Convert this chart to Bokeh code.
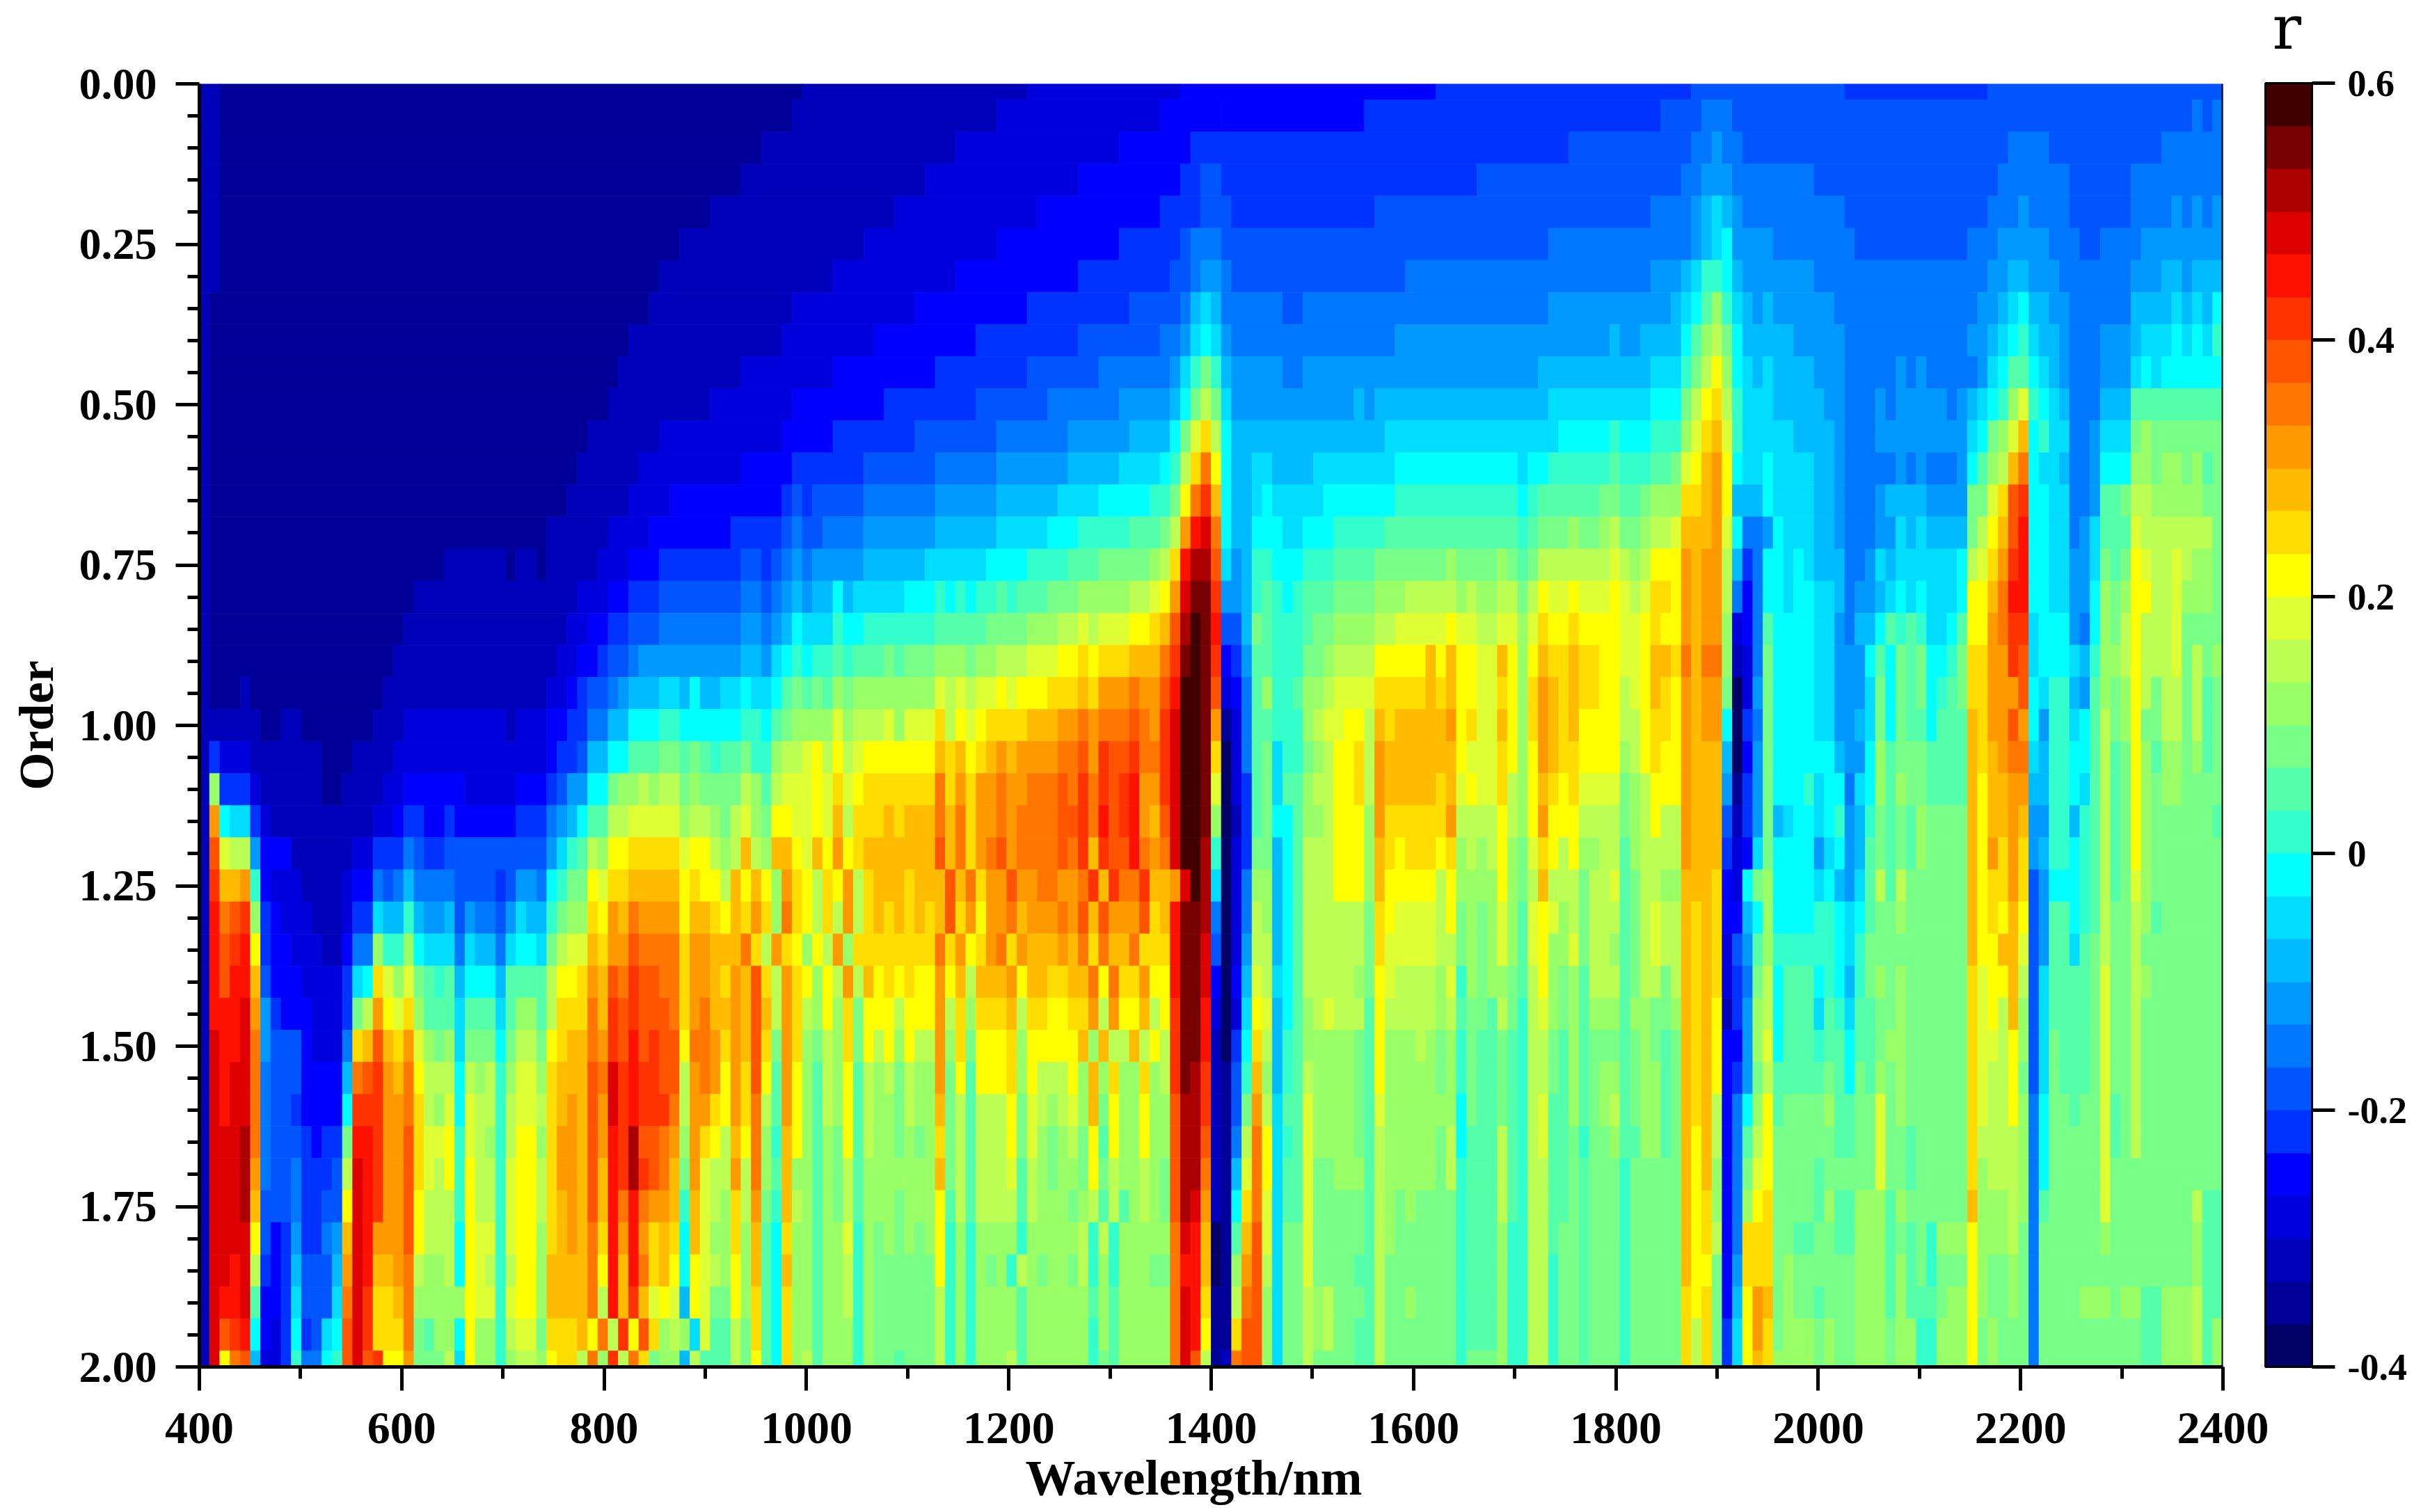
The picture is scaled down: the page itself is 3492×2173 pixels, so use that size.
from bokeh.embed import file_html
from bokeh.resources import INLINE
from bokeh.plotting import figure
from bokeh.models import (ColumnDataSource, LinearColorMapper, ColorBar, FixedTicker, Range1d,
                          Label, Span, NumeralTickFormatter)

# Each row: flat pairs  start wavelength (nm), colour band (0 = r -0.4..-0.367 ... 29 = r 0.567..0.6)
R00=[400,2,420,1,996,2,1218,3,1369,4,1622,5,1874,6,2027,5,2169,6]
R01=[400,2,420,1,985,2,1187,3,1350,4,1410,4,1552,5,1845,6,1885,7,1916,6,2371,7,2381,6,2391,7]
R02=[400,2,420,1,955,2,1147,3,1309,4,1380,5,1754,6,1874,7,1896,8,1906,7,1926,6,2189,7,2229,6,2340,7]
R03=[400,2,420,1,935,2,1117,3,1270,4,1369,5,1390,6,1410,5,1663,6,1865,7,1885,8,1916,7,1996,6,2180,7,2249,6,2311,7]
R04=[400,2,420,1,905,2,1087,3,1228,4,1350,5,1390,6,1420,5,1562,6,1835,7,1875,8,1886,9,1896,10,1906,9,1916,8,1926,7,2027,6,2169,7,2198,8,2209,7,2249,6,2311,7,2351,8,2361,7,2371,8,2381,7,2391,8]
R05=[400,2,420,1,874,2,1056,3,1187,4,1309,5,1369,6,1380,7,1410,6,1734,7,1875,8,1886,9,1896,10,1906,11,1916,8,1956,7,2037,6,2149,7,2178,8,2229,7,2260,6,2280,7,2321,8]
R06=[400,2,420,1,855,2,1026,3,1147,4,1270,5,1359,6,1380,7,1390,8,1410,7,1420,6,1592,7,1835,8,1866,9,1875,10,1886,12,1906,11,1916,9,1926,8,1996,7,2169,8,2189,9,2209,8,2239,7,2311,8,2340,9,2361,8,2371,9]
R07=[400,2,410,1,844,2,985,3,1107,4,1218,5,1319,6,1369,7,1380,9,1390,10,1400,9,1410,7,1471,6,1491,7,1734,8,1855,9,1866,10,1875,11,1886,13,1896,15,1906,12,1916,10,1926,9,1936,8,1945,9,1956,8,2017,7,2158,8,2178,9,2189,10,2198,11,2209,9,2229,8,2249,7,2311,9,2351,10,2361,9,2371,10,2381,9,2391,11]
R08=[400,2,410,1,824,2,976,3,1066,4,1167,5,1270,6,1350,7,1369,8,1380,10,1390,11,1400,10,1410,8,1420,7,1582,8,1794,9,1804,8,1825,9,1866,11,1875,13,1886,15,1896,16,1906,14,1916,11,1926,9,1976,8,2027,7,2149,8,2169,9,2178,10,2189,11,2198,12,2209,10,2219,9,2239,8,2249,7,2280,8,2311,9,2321,10,2351,11,2361,10,2371,11,2381,10,2391,12]
R09=[400,2,410,1,814,2,935,3,1026,4,1127,5,1218,6,1288,7,1359,8,1369,10,1380,12,1390,14,1400,12,1410,9,1420,8,1471,7,1491,8,1724,9,1835,10,1866,12,1875,14,1886,16,1896,18,1906,15,1916,11,1926,10,1936,9,1945,10,1956,9,1996,8,2027,7,2078,8,2087,7,2098,8,2107,7,2158,8,2169,10,2178,11,2189,13,2209,11,2219,10,2229,9,2239,8,2249,7,2280,8,2311,10,2321,11,2331,10,2340,11]
R10=[400,2,410,1,804,2,905,3,985,4,1077,5,1167,6,1238,7,1309,8,1359,9,1369,11,1380,14,1390,16,1400,14,1410,10,1420,8,1541,9,1552,8,1562,9,1734,10,1835,11,1866,14,1875,16,1886,18,1896,19,1906,16,1916,12,1926,10,1956,9,2007,8,2027,7,2058,8,2068,7,2078,8,2129,7,2139,8,2149,9,2158,10,2169,11,2178,12,2189,15,2198,17,2209,12,2219,11,2229,10,2239,9,2249,7,2280,9,2311,13]
R11=[400,2,410,1,784,2,855,3,975,4,1026,5,1107,6,1187,7,1258,8,1319,9,1359,11,1369,14,1380,17,1390,19,1400,16,1410,11,1420,9,1572,10,1744,11,1794,12,1804,11,1835,12,1866,15,1875,17,1886,19,1896,20,1906,17,1916,12,1926,10,1976,9,2017,8,2027,7,2058,8,2149,10,2158,11,2169,14,2178,15,2189,17,2198,20,2209,11,2219,12,2229,10,2249,7,2270,8,2280,10,2311,14,2321,15,2331,14]
R12=[400,2,410,1,773,2,834,3,934,4,985,5,1056,6,1127,7,1187,8,1258,9,1309,10,1350,11,1359,12,1369,16,1380,19,1390,22,1400,18,1410,11,1420,9,1440,10,1460,9,1501,10,1582,11,1704,10,1714,11,1734,12,1794,13,1804,12,1835,13,1855,14,1866,17,1875,18,1886,20,1896,21,1906,18,1916,11,1926,10,1945,11,1956,10,1996,9,2017,8,2027,7,2078,8,2087,7,2098,8,2107,7,2139,8,2149,11,2158,13,2169,15,2178,16,2189,20,2198,22,2209,11,2219,10,2239,9,2249,7,2270,8,2280,11,2311,15,2331,14,2340,15,2361,14,2371,15,2381,13,2391,14]
R13=[400,2,410,1,764,2,824,3,865,4,975,5,985,6,996,5,1006,6,1056,7,1127,8,1187,9,1248,10,1288,11,1339,12,1359,14,1369,18,1380,22,1390,24,1400,20,1410,11,1420,9,1440,10,1450,11,1460,10,1511,11,1582,12,1704,11,1714,12,1724,13,1784,14,1804,13,1825,14,1835,15,1866,19,1886,20,1896,21,1906,18,1916,9,1945,11,1956,10,1996,9,2017,8,2027,7,2058,8,2068,9,2107,8,2149,14,2169,17,2178,19,2189,23,2198,24,2209,11,2229,10,2249,7,2270,8,2280,13,2300,14,2311,16,2331,15,2381,14]
R14=[400,2,410,1,743,2,804,3,844,4,925,5,975,6,985,7,996,6,1016,7,1056,8,1127,9,1187,10,1238,11,1270,12,1319,13,1350,14,1359,16,1369,21,1380,25,1390,26,1400,22,1410,11,1420,9,1440,11,1471,10,1491,11,1521,12,1572,13,1704,12,1714,13,1724,14,1754,15,1764,14,1784,15,1794,16,1804,14,1825,15,1835,16,1855,17,1866,20,1895,21,1906,17,1916,11,1926,7,1945,8,1956,11,1967,10,1996,9,2017,8,2027,7,2058,8,2078,10,2087,9,2098,10,2107,9,2149,14,2158,16,2169,18,2178,20,2189,23,2198,25,2209,11,2229,10,2249,7,2260,8,2270,10,2280,13,2311,17,2321,16,2391,14]
R15=[400,2,410,1,641,2,703,1,712,2,733,1,743,2,794,3,824,4,855,5,935,6,955,5,965,6,975,7,985,8,996,7,1006,8,1056,9,1117,10,1177,11,1218,12,1258,13,1288,14,1339,15,1350,16,1359,19,1369,25,1380,27,1400,23,1410,10,1420,8,1430,9,1440,12,1460,11,1491,12,1521,13,1562,14,1633,15,1643,14,1683,15,1693,14,1704,13,1714,14,1724,16,1794,17,1804,16,1815,15,1825,16,1835,18,1866,21,1875,20,1886,21,1906,16,1916,9,1926,5,1936,7,1945,11,1967,10,1976,11,1987,10,1996,9,2027,7,2047,8,2058,10,2068,9,2078,10,2139,11,2149,16,2158,17,2169,19,2178,21,2189,24,2198,25,2209,11,2229,10,2249,8,2270,10,2280,14,2290,13,2300,14,2311,18,2321,17,2331,16,2351,17,2361,16,2371,15,2391,14]
R16=[400,2,410,1,612,2,773,3,804,4,824,5,855,6,935,7,955,6,965,7,975,8,985,9,996,8,1006,9,1026,11,1036,9,1046,10,1097,11,1127,12,1137,11,1147,12,1157,11,1167,12,1187,13,1197,12,1207,13,1238,14,1270,15,1319,16,1339,17,1350,18,1359,21,1369,26,1380,28,1400,24,1410,8,1430,9,1440,12,1450,13,1460,12,1471,11,1481,12,1491,13,1521,14,1562,15,1592,16,1643,15,1653,16,1663,15,1683,16,1704,14,1714,16,1724,18,1734,17,1754,18,1764,17,1794,18,1804,17,1815,16,1825,17,1835,19,1855,18,1866,21,1875,20,1886,21,1906,16,1916,7,1926,4,1936,7,1945,11,1967,10,1976,11,1996,10,2017,9,2027,7,2037,8,2058,9,2068,10,2078,11,2087,10,2098,11,2107,10,2139,11,2149,18,2169,20,2178,22,2189,25,2209,11,2229,10,2249,8,2270,11,2280,15,2290,14,2300,15,2311,18,2331,16,2351,17,2361,15,2391,14]
R17=[400,2,410,1,602,2,763,3,784,4,804,5,824,6,854,7,935,8,956,7,966,8,976,9,986,11,996,10,1026,12,1036,11,1056,12,1127,13,1177,14,1218,15,1248,16,1268,17,1278,16,1288,17,1319,18,1340,19,1350,20,1360,23,1370,27,1380,29,1390,28,1400,25,1410,6,1430,9,1440,14,1450,13,1460,12,1491,13,1501,14,1521,15,1562,16,1582,17,1633,18,1643,17,1663,16,1683,17,1702,15,1714,17,1724,19,1734,18,1754,19,1764,18,1804,17,1825,18,1835,19,1845,18,1866,21,1875,20,1886,21,1906,15,1916,3,1926,4,1936,7,1945,13,1956,11,1996,10,2017,8,2027,7,2037,9,2058,11,2068,13,2078,12,2087,13,2098,12,2107,10,2129,11,2139,13,2149,18,2169,21,2178,22,2189,24,2209,10,2219,11,2249,8,2260,7,2270,11,2280,15,2290,14,2300,16,2311,18,2321,16,2351,17,2361,14]
R18=[400,2,410,1,592,2,753,3,774,4,793,5,804,6,824,7,834,8,935,9,956,8,966,10,976,11,986,12,996,11,1006,12,1026,13,1036,12,1046,13,1077,14,1087,13,1097,14,1127,15,1157,14,1167,15,1188,16,1218,17,1248,18,1268,19,1278,18,1288,19,1319,20,1349,22,1359,24,1370,28,1380,29,1390,28,1400,24,1410,4,1420,5,1430,8,1440,13,1460,12,1491,14,1511,15,1521,16,1562,18,1613,20,1622,18,1633,20,1643,18,1663,17,1683,20,1693,18,1704,15,1714,18,1724,20,1734,19,1754,20,1764,19,1784,18,1804,17,1825,18,1835,20,1855,19,1866,22,1875,20,1886,22,1906,15,1916,2,1926,3,1936,7,1945,14,1956,11,1996,10,2017,8,2047,11,2058,13,2068,11,2078,14,2087,13,2098,14,2107,11,2129,12,2139,14,2149,19,2169,21,2189,24,2198,23,2209,10,2219,11,2249,10,2260,9,2270,12,2280,15,2300,16,2311,18,2321,16,2351,17,2361,14,2371,16,2381,14,2391,15]
R19=[400,2,410,1,440,2,450,1,582,2,743,3,764,4,774,5,784,6,804,7,814,8,824,9,854,10,874,9,884,11,895,9,915,10,935,11,945,10,966,11,976,13,986,14,996,13,1006,14,1016,13,1026,15,1036,14,1046,15,1127,17,1137,16,1147,17,1157,16,1167,17,1188,18,1198,17,1208,18,1238,19,1268,20,1278,19,1288,21,1319,22,1329,21,1349,23,1359,25,1370,29,1390,28,1400,23,1410,3,1420,4,1430,7,1440,13,1450,15,1460,12,1481,13,1491,15,1511,16,1521,17,1562,19,1613,20,1622,19,1633,20,1643,18,1663,17,1683,19,1693,18,1704,15,1714,19,1724,21,1734,20,1744,19,1754,20,1764,19,1784,18,1804,16,1815,17,1825,18,1835,20,1845,19,1855,18,1866,21,1875,20,1886,21,1906,14,1916,0,1926,3,1936,8,1945,14,1956,11,1996,10,2017,8,2047,10,2058,14,2068,11,2078,14,2087,13,2098,14,2107,11,2118,12,2129,13,2139,14,2149,19,2169,21,2198,23,2209,11,2219,10,2229,12,2249,9,2260,8,2270,13,2280,15,2290,14,2300,15,2311,18,2321,16,2331,14,2340,16,2361,14,2371,16,2381,13,2391,14]
R20=[400,2,460,1,480,2,500,1,572,2,602,3,704,2,713,3,743,4,764,5,784,7,804,9,824,11,854,12,874,11,935,12,956,11,966,13,976,14,986,15,1026,17,1036,15,1046,16,1077,17,1087,15,1097,17,1127,19,1137,16,1147,18,1157,17,1167,18,1177,19,1218,20,1248,21,1268,22,1278,21,1288,22,1319,23,1329,22,1339,21,1349,24,1359,26,1370,29,1390,28,1400,21,1410,1,1420,3,1430,7,1440,13,1460,12,1491,15,1501,16,1511,17,1532,18,1551,16,1562,20,1572,19,1582,20,1633,21,1643,18,1653,19,1663,17,1683,20,1693,18,1704,15,1714,19,1724,21,1734,20,1744,19,1754,20,1764,18,1804,16,1825,18,1835,19,1855,18,1866,21,1875,20,1886,21,1906,11,1916,0,1926,5,1936,7,1945,14,1956,11,1996,10,2017,8,2037,9,2047,10,2058,14,2068,11,2078,14,2087,13,2107,11,2118,13,2149,20,2158,19,2169,21,2189,23,2198,21,2209,11,2219,8,2229,12,2249,10,2260,11,2270,13,2280,16,2290,14,2300,15,2311,18,2321,14,2340,16,2361,14,2371,16,2381,13,2391,14]
R21=[400,2,410,5,420,3,450,2,522,1,550,2,592,3,743,4,753,5,774,6,784,9,804,11,824,13,854,14,874,13,884,14,895,13,905,12,915,13,935,14,945,12,966,15,976,16,996,17,1006,18,1016,16,1026,18,1036,16,1046,17,1056,18,1127,20,1137,19,1147,20,1157,18,1167,19,1177,20,1188,21,1198,20,1208,21,1248,22,1268,23,1278,21,1288,24,1299,23,1319,24,1329,22,1349,24,1359,26,1370,29,1390,28,1400,19,1410,0,1420,3,1430,7,1440,13,1450,14,1460,10,1471,12,1491,14,1501,15,1511,16,1521,18,1541,19,1551,16,1562,21,1572,20,1643,18,1653,17,1683,19,1693,18,1704,15,1714,18,1724,21,1734,20,1744,19,1764,18,1804,15,1815,16,1825,18,1835,19,1845,18,1866,21,1875,20,1906,9,1916,0,1926,4,1936,8,1945,14,1956,11,2007,11,2017,9,2027,8,2047,11,2058,15,2068,13,2078,14,2107,13,2149,20,2158,19,2169,20,2178,21,2189,22,2209,10,2219,9,2229,12,2249,11,2270,13,2280,16,2290,13,2300,14,2311,18,2321,15,2331,13,2340,15,2361,14,2371,15,2381,13,2391,14]
R22=[400,2,410,15,420,5,450,3,460,2,522,1,540,2,582,3,602,4,662,3,713,4,743,5,753,6,763,8,784,11,804,14,814,15,834,16,844,15,854,16,874,14,884,15,895,14,935,16,945,15,956,13,966,16,976,17,1006,18,1016,17,1026,19,1036,17,1046,18,1056,19,1127,22,1137,19,1147,21,1157,19,1167,21,1188,22,1198,21,1218,22,1248,23,1258,22,1268,24,1278,22,1288,24,1299,23,1309,24,1319,25,1329,21,1349,24,1359,26,1370,29,1390,28,1400,17,1410,0,1420,3,1430,5,1440,13,1450,14,1460,10,1471,13,1491,15,1501,16,1521,18,1541,19,1551,16,1562,21,1572,20,1622,19,1633,20,1643,17,1653,18,1663,17,1683,19,1693,16,1704,15,1714,18,1724,20,1734,19,1744,18,1754,19,1764,17,1804,14,1815,15,1825,16,1835,18,1866,21,1875,20,1906,8,1916,1,1926,5,1936,8,1945,14,1956,11,1987,12,1996,10,2007,11,2027,7,2037,10,2047,11,2058,15,2068,13,2078,15,2087,14,2107,13,2149,20,2158,18,2169,20,2189,21,2209,9,2229,12,2249,11,2260,10,2270,13,2280,16,2290,13,2300,14,2311,18,2321,15,2331,14,2340,15,2361,14]
R23=[400,2,410,21,420,11,430,10,450,5,460,3,470,2,572,3,592,4,602,5,622,4,642,5,652,4,713,5,743,7,753,8,763,9,773,11,783,13,804,16,824,17,874,15,884,16,895,16,905,15,915,14,925,16,935,17,945,15,956,14,966,18,986,17,1006,18,1016,17,1026,20,1036,16,1046,19,1077,20,1087,19,1097,20,1127,22,1137,20,1147,22,1157,19,1167,21,1188,22,1198,21,1208,22,1248,23,1268,24,1278,22,1288,25,1299,23,1309,24,1319,25,1329,21,1339,20,1349,23,1359,26,1370,29,1390,28,1400,15,1410,0,1420,2,1430,5,1440,13,1450,14,1460,11,1481,13,1491,15,1511,16,1521,18,1551,15,1562,21,1572,19,1633,21,1643,16,1683,18,1693,16,1704,15,1714,18,1724,21,1734,18,1764,16,1804,14,1815,15,1825,16,1835,18,1845,16,1866,21,1875,20,1906,6,1916,2,1926,5,1936,8,1945,14,1956,9,1967,10,1976,11,1996,10,2007,11,2017,12,2027,8,2037,9,2047,12,2058,14,2068,13,2078,14,2087,13,2098,15,2107,14,2149,20,2158,18,2169,20,2189,21,2198,20,2209,8,2229,12,2249,9,2260,12,2270,13,2280,16,2290,13,2300,14,2311,18,2321,15,2331,14,2391,13]
R24=[400,2,410,23,420,17,430,16,450,8,460,4,490,2,550,3,572,5,602,7,612,6,622,5,642,6,652,6,743,8,753,10,763,12,773,13,783,16,793,15,804,18,824,19,874,17,884,18,895,18,905,16,915,15,925,16,935,20,945,16,956,15,966,20,986,18,996,17,1006,20,1016,18,1026,21,1036,18,1046,19,1056,20,1127,23,1137,20,1147,22,1157,19,1167,21,1177,22,1188,23,1198,21,1208,22,1248,23,1258,22,1268,24,1278,20,1288,24,1299,23,1319,25,1329,22,1339,21,1349,22,1359,26,1370,29,1390,27,1400,12,1410,0,1420,3,1430,5,1440,14,1460,9,1471,11,1481,13,1491,16,1521,18,1551,15,1562,20,1572,19,1582,18,1592,19,1622,18,1633,19,1643,15,1653,16,1663,15,1673,16,1683,18,1693,15,1704,14,1714,17,1724,19,1734,18,1744,16,1754,18,1764,15,1784,16,1804,13,1815,15,1825,16,1866,21,1875,20,1906,5,1916,3,1926,4,1936,10,1945,14,1956,11,1996,8,2007,10,2017,11,2027,8,2037,9,2047,13,2058,14,2068,13,2078,14,2087,13,2098,15,2107,14,2149,20,2158,18,2169,21,2178,19,2189,21,2198,19,2209,8,2219,9,2229,12,2249,11,2260,12,2270,13,2280,16,2290,13,2300,14,2311,18,2321,15,2331,14]
R25=[400,2,410,24,420,20,440,21,450,12,460,4,470,3,500,2,542,3,552,4,572,7,582,6,592,7,602,9,612,7,652,6,692,5,702,6,713,8,733,7,743,11,753,12,763,14,784,18,793,17,804,19,824,20,874,18,884,19,895,18,915,16,925,20,935,18,945,20,956,18,966,15,976,21,986,19,996,18,1006,16,1016,19,1026,18,1036,21,1046,16,1056,19,1066,20,1097,19,1106,20,1137,23,1147,20,1157,22,1167,19,1177,21,1198,23,1208,21,1228,22,1248,21,1268,22,1278,24,1288,20,1299,24,1309,22,1329,24,1339,20,1359,21,1370,26,1380,29,1390,27,1400,10,1410,0,1420,3,1430,7,1440,15,1460,9,1471,11,1481,13,1491,16,1521,18,1551,15,1562,20,1572,18,1622,16,1633,18,1643,15,1683,18,1693,15,1704,14,1714,16,1724,20,1734,16,1754,16,1764,14,1774,16,1794,17,1804,13,1815,14,1825,16,1845,15,1866,20,1895,19,1906,4,1916,3,1926,11,1936,14,1945,15,1956,11,1996,10,2007,11,2017,9,2027,8,2037,10,2047,13,2058,16,2068,13,2078,16,2087,14,2149,20,2158,18,2169,19,2189,21,2198,19,2209,6,2219,8,2229,11,2260,12,2270,13,2280,16,2290,13,2300,14,2311,17,2321,15,2331,14]
R26=[400,2,410,25,420,22,430,23,440,24,450,15,460,5,470,4,480,3,510,2,542,3,552,5,572,10,582,9,602,12,612,9,622,8,642,9,652,6,662,8,672,7,692,6,702,8,713,10,723,9,743,12,753,14,763,15,784,19,793,18,804,21,814,20,824,22,834,21,874,18,884,20,895,20,905,19,915,18,925,20,935,19,945,21,956,19,966,15,976,22,986,19,996,18,1006,16,1016,19,1026,16,1036,21,1046,16,1056,19,1066,20,1077,19,1087,20,1097,19,1106,20,1117,19,1127,20,1137,23,1147,19,1157,21,1167,18,1177,21,1198,22,1208,20,1218,21,1248,22,1258,21,1268,23,1278,20,1288,23,1299,21,1329,23,1339,19,1349,20,1359,25,1370,28,1390,27,1400,7,1410,0,1420,3,1430,7,1440,16,1450,15,1460,9,1471,11,1481,13,1491,16,1551,14,1562,19,1572,18,1582,17,1622,16,1633,18,1643,14,1653,15,1663,14,1673,15,1683,17,1693,15,1704,13,1714,17,1724,18,1734,17,1744,15,1754,16,1764,14,1774,16,1804,13,1815,14,1825,16,1835,17,1845,16,1866,20,1875,19,1886,20,1895,19,1906,4,1916,4,1926,9,1936,11,1945,15,1956,11,1996,12,2017,11,2027,10,2037,11,2047,13,2058,14,2078,15,2087,14,2149,20,2158,18,2169,19,2178,18,2189,20,2198,18,2209,6,2219,8,2229,13,2249,11,2260,12,2270,13,2280,16,2290,14,2311,16,2321,15,2331,13,2340,14]
R27=[400,2,410,25,420,23,430,24,440,25,450,18,460,5,470,4,490,3,522,2,542,4,552,7,572,15,582,12,602,15,612,11,622,10,652,7,662,10,672,9,692,7,702,10,713,11,733,10,743,14,753,16,763,17,784,20,793,19,804,21,824,23,834,22,874,19,884,21,895,21,905,20,935,22,945,19,956,16,966,21,976,19,986,18,996,15,1006,18,1016,16,1026,21,1036,15,1046,19,1127,22,1137,19,1147,21,1157,18,1167,19,1177,21,1188,22,1198,19,1208,21,1218,20,1248,21,1258,20,1268,22,1278,19,1288,22,1299,20,1319,22,1329,19,1359,25,1370,28,1390,26,1400,6,1410,0,1420,3,1430,8,1440,16,1460,9,1471,11,1481,13,1491,16,1551,14,1562,19,1572,17,1622,16,1643,14,1653,15,1663,14,1673,15,1683,17,1693,15,1704,13,1714,17,1724,18,1734,15,1754,17,1764,14,1774,16,1794,15,1804,13,1815,14,1825,16,1835,17,1845,16,1866,20,1875,19,1886,20,1895,19,1906,3,1916,6,1926,8,1936,13,1945,15,1956,12,2017,11,2027,10,2037,12,2047,14,2149,20,2158,18,2178,20,2198,17,2209,6,2219,8,2229,13,2249,10,2260,13,2270,14,2280,16,2290,14,2311,16,2321,14]
R28=[400,2,410,25,420,23,430,25,450,20,460,6,470,4,500,3,542,5,552,10,562,11,572,19,582,17,592,15,602,17,612,14,622,13,632,12,642,13,652,9,662,11,692,9,702,13,733,13,743,16,753,18,774,19,784,21,793,20,804,23,814,22,824,24,834,23,854,22,874,19,884,21,895,21,905,20,915,19,925,21,935,20,945,23,956,19,966,16,976,21,986,19,996,18,1006,15,1016,18,1026,16,1036,21,1046,16,1056,20,1066,18,1077,19,1087,18,1097,19,1106,18,1127,21,1137,18,1147,20,1157,16,1167,20,1198,21,1208,18,1218,20,1238,19,1258,20,1278,22,1288,18,1299,22,1309,19,1329,21,1339,18,1359,25,1370,28,1390,26,1400,4,1410,0,1420,4,1430,9,1440,17,1450,16,1460,10,1471,11,1481,13,1491,16,1541,15,1551,14,1562,18,1572,17,1582,16,1622,15,1633,17,1643,12,1653,15,1663,14,1673,15,1693,14,1704,13,1714,16,1724,18,1734,15,1744,14,1754,15,1764,13,1774,16,1804,13,1815,14,1825,16,1845,14,1855,16,1866,20,1875,19,1886,20,1895,19,1906,3,1916,5,1926,7,1936,14,1945,16,1956,11,1967,13,1996,11,2007,12,2017,11,2027,9,2037,12,2047,14,2058,15,2068,14,2078,15,2087,14,2149,19,2158,17,2169,18,2189,20,2198,16,2209,6,2219,10,2229,13,2270,14,2280,17,2290,14,2311,16,2321,15,2331,14]
R29=[400,2,410,25,440,26,450,21,460,8,470,5,480,4,510,3,540,5,550,14,560,16,570,21,580,18,590,17,600,19,610,15,620,13,652,10,662,13,692,10,702,13,712,15,733,13,743,16,753,19,784,22,793,20,804,24,814,23,824,24,834,23,864,22,874,19,884,21,895,22,905,20,925,21,935,20,945,23,956,20,966,16,976,21,986,19,996,16,1006,15,1016,18,1026,15,1036,19,1046,14,1056,18,1087,16,1097,18,1127,21,1137,16,1147,19,1157,15,1167,19,1198,20,1208,16,1218,19,1238,18,1258,19,1278,21,1288,16,1299,21,1309,18,1329,20,1339,16,1349,18,1359,24,1370,28,1390,25,1400,3,1410,0,1420,3,1430,10,1440,18,1450,17,1460,9,1471,11,1481,13,1491,15,1501,16,1511,17,1521,16,1551,13,1562,18,1572,16,1622,15,1633,16,1643,13,1653,14,1673,13,1683,16,1693,14,1704,12,1714,16,1724,17,1734,15,1744,14,1754,15,1764,13,1774,15,1804,13,1815,15,1835,14,1855,15,1866,20,1875,19,1886,20,1895,18,1906,2,1916,5,1926,8,1936,15,1945,16,1956,11,1967,13,1996,10,2007,13,2017,12,2027,10,2037,13,2058,14,2078,15,2087,14,2149,19,2158,17,2169,18,2178,16,2189,20,2198,15,2209,6,2219,10,2229,13,2270,14,2280,17,2290,14,2311,16,2321,14]
R30=[400,2,410,26,420,25,440,26,450,22,460,8,470,6,500,4,510,3,540,7,550,19,560,20,570,23,580,20,590,19,600,21,610,17,620,15,630,14,640,15,650,10,660,14,690,11,700,14,712,16,733,14,743,18,753,19,763,20,784,22,793,21,804,24,814,23,824,25,834,23,844,24,854,23,874,18,884,22,895,22,905,21,915,19,925,21,935,20,945,23,956,19,966,14,976,21,986,19,996,15,1006,14,1016,16,1026,15,1036,19,1046,14,1056,18,1066,16,1077,18,1087,15,1097,18,1106,16,1127,21,1137,15,1147,19,1157,14,1167,18,1198,19,1208,15,1218,18,1268,20,1278,15,1288,20,1299,16,1319,20,1329,16,1339,18,1349,16,1359,24,1370,28,1390,25,1400,2,1410,0,1420,5,1430,11,1440,19,1450,16,1460,9,1471,12,1481,13,1491,15,1521,15,1541,14,1551,13,1562,18,1572,15,1602,16,1613,15,1622,14,1633,15,1643,12,1653,14,1663,13,1683,14,1693,13,1704,12,1714,16,1734,14,1744,13,1754,15,1764,13,1774,14,1804,13,1815,14,1825,15,1835,14,1845,13,1855,14,1866,20,1875,19,1886,20,1895,18,1906,4,1926,8,1936,15,1945,17,1956,11,1967,13,1996,12,2007,13,2027,11,2037,13,2058,14,2068,15,2087,14,2149,19,2158,17,2178,16,2189,18,2198,15,2209,6,2219,10,2229,14,2239,13,2270,14,2280,17,2290,14,2311,16,2321,14]
R31=[400,2,410,26,420,25,430,26,450,22,460,7,470,6,500,4,540,9,550,22,560,23,570,24,580,21,590,20,600,22,610,18,620,16,650,11,660,16,670,15,680,16,690,12,700,15,712,17,733,15,743,19,753,20,784,23,793,22,804,26,814,24,824,25,834,24,854,23,874,16,884,21,895,22,905,21,915,18,925,21,935,19,945,23,956,18,966,13,976,21,986,18,996,15,1006,13,1016,16,1026,15,1036,18,1046,13,1056,16,1066,15,1077,16,1087,14,1097,16,1106,15,1127,21,1137,14,1147,18,1157,13,1167,18,1198,19,1208,15,1218,18,1228,16,1258,18,1268,15,1278,20,1288,15,1299,19,1309,15,1329,19,1339,15,1349,16,1359,24,1370,28,1380,27,1390,24,1400,2,1410,1,1420,6,1430,12,1440,20,1450,15,1460,9,1471,12,1481,13,1491,16,1501,15,1541,14,1551,13,1562,18,1572,15,1622,14,1633,15,1643,12,1653,14,1663,13,1683,14,1693,13,1704,12,1714,16,1734,14,1744,13,1754,15,1764,13,1774,14,1784,15,1804,13,1815,14,1825,15,1845,13,1855,14,1866,20,1875,19,1886,20,1895,18,1906,4,1916,5,1926,8,1936,14,1945,16,1956,13,2007,14,2017,13,2027,11,2037,14,2047,13,2058,15,2068,14,2078,15,2087,14,2149,19,2158,17,2169,16,2189,18,2198,14,2209,6,2219,10,2229,14,2239,13,2270,14,2280,17,2290,14,2311,16,2321,14]
R32=[400,2,410,26,420,25,430,26,450,22,460,7,470,6,490,5,500,4,540,11,550,24,580,21,600,22,610,19,620,16,630,15,640,17,650,11,660,17,670,16,690,12,700,16,713,17,733,16,743,19,753,20,763,21,773,20,784,23,793,21,804,26,814,24,824,25,834,24,864,22,874,16,884,21,895,21,905,19,915,18,925,21,935,19,945,22,956,16,966,13,976,21,986,18,996,15,1006,13,1016,16,1026,15,1036,18,1046,13,1056,16,1066,15,1087,14,1097,16,1106,15,1127,20,1137,14,1147,16,1157,13,1167,16,1198,18,1208,14,1218,17,1228,16,1238,15,1248,16,1258,17,1268,15,1278,20,1288,14,1299,18,1309,15,1329,18,1339,15,1359,23,1370,27,1390,24,1400,2,1410,1,1420,6,1430,14,1440,21,1450,16,1460,10,1471,13,1491,17,1501,15,1541,14,1551,13,1562,17,1572,15,1643,11,1653,14,1663,13,1683,14,1693,13,1704,12,1714,16,1724,17,1734,13,1754,15,1764,13,1774,14,1784,15,1794,16,1804,13,1815,14,1825,15,1845,13,1855,14,1866,20,1875,19,1886,20,1895,16,1906,4,1916,7,1926,11,1936,15,1945,18,1956,13,1967,14,2007,15,2017,13,2037,14,2058,17,2068,14,2078,15,2087,14,2149,19,2158,17,2169,16,2189,18,2198,15,2209,7,2219,11,2229,14,2249,13,2260,14,2280,17,2290,13,2300,14,2311,16,2321,14]
R33=[400,2,410,26,440,27,450,22,460,7,470,6,500,5,510,4,520,5,540,14,550,25,572,24,580,21,600,23,610,19,620,17,640,18,650,12,660,17,670,16,680,15,690,12,700,16,713,18,733,15,743,19,753,21,773,20,784,23,793,21,804,25,814,24,824,27,834,23,854,22,864,21,874,15,884,21,895,19,905,18,915,16,925,20,935,18,945,22,956,15,966,12,976,20,986,18,996,15,1006,13,1016,15,1026,14,1036,18,1046,13,1056,16,1066,15,1087,14,1097,15,1106,14,1117,15,1127,19,1137,14,1147,16,1157,13,1167,16,1198,18,1208,14,1218,17,1228,15,1238,14,1248,15,1258,16,1268,14,1278,18,1288,13,1299,18,1309,15,1329,18,1339,15,1359,23,1370,27,1390,23,1400,2,1410,1,1420,7,1430,16,1440,22,1450,18,1460,10,1471,12,1481,13,1491,17,1501,15,1541,14,1551,13,1562,16,1572,15,1622,14,1633,16,1643,11,1653,13,1683,16,1693,13,1704,12,1714,16,1724,17,1734,13,1754,14,1764,12,1774,14,1794,15,1804,13,1825,15,1845,13,1855,14,1866,20,1875,18,1886,20,1895,16,1906,4,1916,7,1926,13,1936,16,1945,18,1956,14,2017,13,2037,14,2058,17,2068,14,2087,13,2098,14,2149,19,2158,16,2189,16,2198,15,2209,7,2219,11,2229,14,2280,17,2290,13,2300,14,2311,16,2321,14]
R34=[400,2,410,26,440,27,450,21,460,7,470,6,490,7,500,5,530,6,540,16,550,26,560,25,570,24,580,21,600,23,610,19,620,17,630,16,640,18,650,12,660,18,670,16,690,12,700,17,713,18,733,16,743,19,753,21,773,20,784,23,793,20,804,25,814,24,824,27,834,24,844,23,854,22,864,20,874,14,884,21,895,17,905,16,915,16,925,21,935,16,945,22,956,15,966,13,976,20,986,15,996,15,1006,13,1016,15,1026,14,1036,16,1046,13,1056,15,1127,20,1137,14,1147,16,1157,13,1167,16,1198,17,1208,13,1218,16,1228,15,1238,14,1248,15,1258,15,1268,14,1278,18,1288,14,1299,16,1309,15,1329,16,1339,15,1349,14,1359,23,1370,27,1390,22,1400,2,1410,1,1420,9,1430,17,1440,22,1450,18,1460,10,1471,13,1491,17,1501,14,1521,15,1551,13,1562,16,1572,15,1622,14,1633,16,1643,12,1653,13,1683,16,1693,13,1704,12,1714,16,1734,13,1754,14,1764,13,1774,14,1804,12,1815,14,1866,20,1875,18,1886,20,1895,15,1906,4,1916,7,1926,14,1936,17,1945,18,1956,14,1996,13,2007,14,2058,17,2068,14,2087,13,2098,14,2149,19,2158,15,2169,16,2198,15,2209,7,2219,11,2229,14,2280,17,2290,14]
R35=[400,2,410,26,440,27,450,20,460,6,490,7,500,5,520,6,540,18,550,26,560,25,570,24,580,21,600,23,610,18,620,16,650,12,660,18,670,16,690,12,700,17,713,18,733,16,743,19,753,20,763,21,773,20,784,23,793,20,804,25,814,22,824,25,834,22,844,21,864,20,874,12,884,20,895,17,905,16,915,15,925,19,935,16,945,21,956,14,966,12,976,20,986,16,996,15,1006,13,1016,15,1026,14,1036,16,1046,13,1056,15,1087,14,1097,15,1127,18,1137,13,1147,16,1157,13,1167,16,1208,13,1218,16,1228,15,1258,14,1268,15,1278,16,1288,13,1299,16,1309,13,1319,15,1329,16,1339,15,1349,14,1359,23,1370,27,1380,26,1390,21,1400,2,1410,1,1420,11,1430,19,1440,22,1450,17,1460,10,1471,13,1491,17,1501,14,1551,13,1562,16,1572,15,1582,14,1592,15,1602,14,1643,12,1653,13,1683,16,1693,13,1704,12,1714,16,1734,13,1754,14,1764,13,1774,14,1804,12,1815,14,1866,20,1875,18,1886,19,1895,15,1906,4,1916,7,1926,15,1936,18,1945,19,1956,14,1996,13,2007,15,2017,13,2037,15,2068,13,2078,15,2087,14,2149,20,2158,15,2189,16,2198,15,2209,7,2219,13,2229,14,2280,17,2290,14,2371,16,2381,13]
R36=[400,2,410,26,450,18,460,6,470,4,480,5,490,8,500,5,520,7,530,8,540,20,550,26,560,25,570,21,600,23,610,18,620,16,650,11,660,18,670,17,690,12,700,17,713,18,733,15,743,19,753,20,763,21,773,20,784,22,793,19,804,25,814,21,824,25,834,21,844,19,854,20,864,19,874,11,884,20,895,17,905,15,925,19,935,15,945,20,956,13,966,11,976,19,986,15,1006,13,1016,15,1036,17,1046,12,1056,15,1066,14,1077,15,1087,14,1097,15,1106,14,1117,15,1127,18,1137,12,1147,15,1157,12,1167,15,1208,12,1218,15,1268,16,1278,12,1288,16,1299,12,1309,15,1359,22,1370,26,1380,25,1390,20,1400,0,1410,1,1420,13,1430,20,1440,23,1450,17,1460,10,1471,14,1491,17,1501,14,1551,13,1562,16,1572,15,1582,14,1643,12,1653,13,1683,15,1693,12,1714,16,1734,13,1744,14,1764,13,1774,14,1804,12,1815,14,1866,20,1875,18,1886,19,1895,16,1906,4,1916,7,1926,19,1956,14,1976,13,1996,14,2017,13,2037,15,2068,13,2078,14,2087,13,2098,14,2107,12,2118,15,2149,18,2158,15,2189,16,2198,14,2209,7,2219,14,2280,15,2290,14,2371,15,2381,13]
R37=[400,2,410,26,430,25,440,26,450,16,460,5,470,4,480,5,490,9,500,6,530,9,540,21,550,26,560,25,570,20,590,21,600,22,610,16,620,15,640,16,650,11,660,18,670,17,680,16,690,12,700,16,713,18,733,15,743,20,783,22,793,18,804,25,814,20,824,25,834,22,844,19,854,20,864,18,874,11,884,18,895,17,905,16,915,15,925,18,935,15,945,20,956,13,966,11,976,20,986,15,1006,13,1016,15,1036,16,1046,12,1056,15,1066,14,1127,18,1137,12,1147,15,1157,12,1167,15,1177,14,1188,15,1198,12,1208,16,1218,15,1228,14,1238,15,1258,14,1268,16,1278,12,1288,15,1299,12,1309,15,1339,14,1359,22,1370,25,1390,20,1400,0,1410,1,1420,15,1430,21,1440,23,1450,16,1460,10,1471,14,1491,17,1501,14,1541,13,1562,16,1572,14,1643,12,1653,13,1683,15,1693,12,1714,16,1734,12,1744,14,1764,13,1774,14,1804,12,1815,14,1866,20,1875,18,1895,14,1906,4,1916,8,1926,19,1956,14,1967,15,1976,14,2037,15,2068,13,2078,15,2087,13,2098,14,2107,12,2118,14,2149,18,2158,15,2169,14,2189,15,2198,14,2209,7,2219,14,2371,15,2381,13]
R38=[400,2,410,26,420,25,440,26,450,13,460,4,480,5,490,10,500,6,530,10,540,22,550,26,560,24,570,19,590,20,600,22,610,15,660,18,670,17,690,12,700,17,713,18,733,15,743,20,783,22,793,16,804,25,814,20,824,24,834,20,844,17,854,18,864,17,874,9,884,18,895,17,905,14,925,18,935,15,945,19,956,13,966,11,976,19,986,15,1006,13,1016,15,1036,16,1046,12,1056,15,1066,14,1127,16,1137,12,1147,15,1157,12,1167,15,1208,13,1218,15,1278,13,1288,15,1299,13,1309,15,1359,22,1370,26,1380,25,1390,19,1400,1,1420,16,1430,22,1440,23,1450,15,1460,10,1471,14,1491,16,1501,15,1511,16,1521,14,1551,13,1562,16,1572,14,1592,15,1602,14,1643,12,1653,13,1683,15,1693,12,1714,16,1734,12,1744,14,1764,13,1774,14,1804,12,1815,14,1866,19,1875,18,1886,19,1895,14,1906,4,1916,9,1926,18,1936,21,1945,20,1956,14,1967,15,1976,14,1996,13,2007,14,2037,15,2068,13,2078,15,2087,13,2118,14,2129,15,2149,18,2158,15,2169,14,2189,15,2198,14,2209,7,2219,14,2260,15,2290,14,2300,15,2321,13,2340,15,2371,16,2381,13]
R39=[400,2,410,26,420,23,430,24,440,25,450,11,460,4,470,3,480,5,490,11,500,5,510,6,520,10,530,11,540,23,550,26,560,24,570,19,600,22,610,14,620,13,630,15,650,11,660,18,670,15,690,12,700,16,713,17,733,14,743,19,773,20,783,18,793,22,803,16,814,24,824,18,834,23,844,19,854,15,864,16,874,15,884,10,894,17,905,13,925,16,935,14,945,19,956,13,966,11,976,19,986,15,1006,13,1016,15,1046,12,1056,15,1066,14,1127,16,1137,12,1147,15,1157,12,1167,15,1208,13,1218,15,1278,12,1288,15,1299,13,1309,15,1359,22,1370,26,1380,25,1390,18,1400,1,1420,19,1430,23,1450,15,1460,10,1471,14,1491,16,1501,15,1511,16,1521,14,1541,13,1562,16,1572,14,1643,12,1653,13,1683,15,1693,12,1714,16,1734,12,1744,14,1764,13,1774,14,1804,12,1815,14,1866,19,1875,16,1886,19,1895,14,1906,5,1916,10,1926,18,1936,21,1945,19,1956,14,1967,15,1996,14,2007,15,2017,14,2037,15,2068,14,2078,15,2098,12,2118,15,2149,18,2158,14,2169,15,2178,14,2209,7,2219,14,2300,14,2321,13,2340,15,2371,16,2381,13,2391,15]
R40=[400,2,410,26,420,18,430,22,440,23,450,9,460,3,480,5,490,12,500,7,520,11,530,12,540,23,550,26,560,23,570,24,580,18,600,21,610,14,640,16,650,10,660,18,670,15,690,12,700,15,713,16,733,15,743,18,753,19,773,16,783,22,793,15,804,24,814,16,824,22,834,19,844,14,854,15,874,9,884,16,895,13,925,16,935,14,945,18,956,13,966,11,976,19,986,15,996,16,1006,13,1016,15,1046,12,1056,15,1066,14,1087,13,1097,14,1127,16,1137,12,1147,15,1157,12,1167,15,1198,16,1208,13,1218,15,1278,12,1288,14,1299,13,1309,15,1359,22,1370,26,1380,23,1390,16,1400,1,1410,2,1420,22,1430,23,1450,15,1460,10,1471,14,1491,16,1501,14,1541,13,1562,16,1572,14,1643,12,1653,14,1683,15,1693,12,1714,16,1734,12,1744,14,1764,13,1774,14,1804,12,1815,14,1866,19,1875,16,1886,19,1895,14,1906,5,1916,10,1926,18,1936,20,1945,19,1956,15,1996,14,2007,15,2017,14,2037,15,2068,14,2078,15,2098,12,2118,15,2149,18,2158,14,2169,15,2178,14,2209,7,2219,14,2321,13,2340,15,2371,16,2381,13,2391,15]
ROWS=[R00,R01,R02,R03,R04,R05,R06,R07,R08,R09,R10,R11,R12,R13,R14,R15,R16,R17,R18,R19,R20,
      R21,R22,R23,R24,R25,R26,R27,R28,R29,R30,R31,R32,R33,R34,R35,R36,R37,R38,R39,R40]

PALETTE=["#000066","#000099","#0000bb","#0000dd","#0000ff","#0033ff","#0055ff","#0077ff","#0099ff","#00bbff",
         "#00ddff","#00ffff","#33ffcc","#55ffaa","#77ff88","#99ff66","#bbff55","#ddff33","#ffff00","#ffdd00",
         "#ffbb00","#ff9900","#ff7700","#ff5500","#ff3300","#ff1100","#dd0000","#aa0000","#770000","#400000"]
X_MAJOR=[400,600,800,1000,1200,1400,1600,1800,2000,2200,2400]
X_MINOR=[500,700,900,1100,1300,1500,1700,1900,2100,2300]
Y_MAJOR=[0,0.25,0.5,0.75,1,1.25,1.5,1.75,2]
Y_MINOR=[k*0.05 for k in range(41) if k%5 != 0]
CB_TICKS=[-0.4,-0.2,0,0.2,0.4,0.6]
COLS=198
STEP=2000/COLS

left,right,top,bottom,r=[],[],[],[],[]
for k,row in enumerate(ROWS):
    starts=row[0::2]; bands=row[1::2]
    idx=[round((w-400)/STEP) for w in starts]+[COLS]
    for i,b in enumerate(bands):
        if idx[i+1]<=idx[i]:
            continue
        left.append(400+idx[i]*STEP); right.append(400+idx[i+1]*STEP)
        top.append(max(0,0.05*k-0.025)); bottom.append(min(2,0.05*k+0.025))
        r.append(-0.4+(b+0.5)/30)
src=ColumnDataSource(dict(left=left,right=right,top=top,bottom=bottom,r=r))

mapper=LinearColorMapper(palette=PALETTE,low=-0.4,high=0.6)
FONT="Liberation Serif"
p=figure(width=3476,height=2173,output_backend="svg",toolbar_location=None,
         x_range=Range1d(400,2400),y_range=Range1d(2,0),
         min_border_left=286,min_border_right=282,min_border_top=120,min_border_bottom=209,
         outline_line_color=None,background_fill_color="white")
p.grid.visible=False
fc={"field":"r","transform":mapper}
p.quad(left="left",right="right",top="top",bottom="bottom",source=src,fill_color=fc,line_color=fc,line_width=0.8)

ax=p.xaxis[0]
ax.ticker=FixedTicker(ticks=X_MAJOR,minor_ticks=X_MINOR)
ay=p.yaxis[0]
ay.ticker=FixedTicker(ticks=Y_MAJOR,minor_ticks=Y_MINOR)
ay.formatter=NumeralTickFormatter(format="0.00")
ay.axis_label="Order"
for a in (ax,ay):
    a.axis_line_color="black"; a.axis_line_width=5
    a.major_tick_line_color="black"; a.major_tick_line_width=5
    a.minor_tick_line_color="black"; a.minor_tick_line_width=5
    a.major_tick_out=34; a.major_tick_in=0
    a.minor_tick_out=17; a.minor_tick_in=0
    a.major_label_text_font=FONT; a.major_label_text_font_style="bold"
    a.major_label_text_font_size="64px"; a.major_label_text_color="black"
    a.axis_label_text_font=FONT; a.axis_label_text_font_style="bold"
    a.axis_label_text_font_size="70px"; a.axis_label_text_color="black"
ax.major_label_text_font_size="66px"
ax.major_label_standoff=32
ay.major_label_standoff=27
ay.axis_label_standoff=20

p.add_layout(Span(location=2400,dimension="height",line_color="black",line_width=4))
p.add_layout(Label(x=1715-286,y=33,x_units="screen",y_units="screen",text="Wavelength/nm",
                   text_font=FONT,text_font_style="bold",text_font_size="72px",text_color="black",
                   text_align="center",text_baseline="alphabetic",text_line_height=0.8),"below")
p.add_layout(Label(x=3265-286,y=81,x_units="screen",y_units="screen",text="r",
                   text_font="DejaVu Serif",text_font_size="87px",text_color="black",
                   text_align="left",text_baseline="alphabetic",text_line_height=0.8),"above")
cb=ColorBar(color_mapper=mapper,ticker=FixedTicker(ticks=CB_TICKS),width=67,height=1845,
            location=(2969,0),padding=0,margin=0,
            major_tick_out=33,major_tick_in=0,major_tick_line_color="black",major_tick_line_width=5,
            minor_tick_line_color=None,bar_line_color="black",bar_line_width=3,
            major_label_text_font=FONT,major_label_text_font_style="bold",major_label_text_font_size="54px",
            major_label_text_color="black",label_standoff=18,
            major_label_overrides={-0.4:"-0.4",-0.2:"-0.2",0:"0",0.2:"0.2",0.4:"0.4",0.6:"0.6"},
            background_fill_color=None,border_line_color=None)
p.add_layout(cb,"center")
open("out.html","w").write(file_html(p,INLINE))
